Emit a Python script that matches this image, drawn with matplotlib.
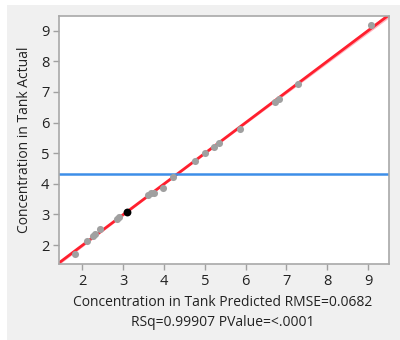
import numpy as np
import matplotlib.pyplot as plt
from matplotlib.patches import Rectangle

plt.rcParams['font.family'] = ['Open Sans', 'DejaVu Sans']

# Predicted vs actual concentration
predicted = [1.82, 2.11, 2.26, 2.32, 2.43, 2.85, 2.91, 3.62, 3.68, 3.75, 3.98,
             4.22, 4.75, 5.01, 5.22, 5.34, 5.86, 6.71, 6.82, 7.28, 9.06]
actual = [1.71, 2.13, 2.29, 2.35, 2.52, 2.86, 2.92, 3.63, 3.71, 3.71, 3.85,
          4.23, 4.75, 5.02, 5.19, 5.32, 5.79, 6.66, 6.77, 7.26, 9.20]
# highlighted row
sel_pred = [3.10]
sel_act = [3.09]

rmse = 0.0682
rsq = 0.99907
x_ticks = [2, 3, 4, 5, 6, 7, 8, 9]
y_ticks = [2, 3, 4, 5, 6, 7, 8, 9]

xs = np.array(predicted + sel_pred)
ys = np.array(actual + sel_act)

fig = plt.figure(figsize=(4.0, 3.4), dpi=100)
fig.patches.append(Rectangle((7 / 400, 0), 1, 1 - 5 / 340, transform=fig.transFigure,
                             facecolor='#f0f0f0', edgecolor='none', zorder=-10))

ax = fig.add_axes([59 / 400, 76 / 340, 330 / 400, 248 / 340])
ax.set_xlim(1.43, 9.51)
ax.set_ylim(1.38, 9.48)

# fit line with confidence band
slope, icpt = np.polyfit(xs, ys, 1)
n = len(xs)
sxx = np.sum((xs - xs.mean()) ** 2)
gx = np.linspace(1.2, 9.8, 200)
gy = slope * gx + icpt
half = 2.08 * rmse * np.sqrt(1 / n + (gx - xs.mean()) ** 2 / sxx)
ax.fill_between(gx, gy - half, gy + half, color='#ffb3bd', lw=0, zorder=1)
ax.plot(gx, gy, color='#ff1f2e', lw=2.0, zorder=2)

# mean of actual
ax.axhline(ys.mean(), color='#3d8ee8', lw=1.8, zorder=2)

ax.scatter(predicted, actual, s=26, color='#a0a0a0', lw=0, zorder=3)
ax.scatter(sel_pred, sel_act, s=32, color='black', lw=0, zorder=4)

ax.set_xticks(x_ticks)
ax.set_yticks(y_ticks)
ax.tick_params(direction='out', length=4, width=1, color='#a0a0a0',
               labelsize=10.5, labelcolor='#222222', pad=3)
for s in ax.spines.values():
    s.set_color('#a8a8a8')
    s.set_linewidth(1.2)

ax.set_ylabel('Concentration in Tank Actual', fontsize=10, color='#222222', labelpad=6)
fig.text(223 / 400, 1 - 303 / 340, 'Concentration in Tank Predicted RMSE=%.4f' % rmse,
         ha='center', va='center', fontsize=10, color='#222222')
fig.text(223 / 400, 1 - 323 / 340, 'RSq=%.5f PValue=<.0001' % rsq,
         ha='center', va='center', fontsize=10, color='#222222')

fig.savefig('out.png', dpi=100)
